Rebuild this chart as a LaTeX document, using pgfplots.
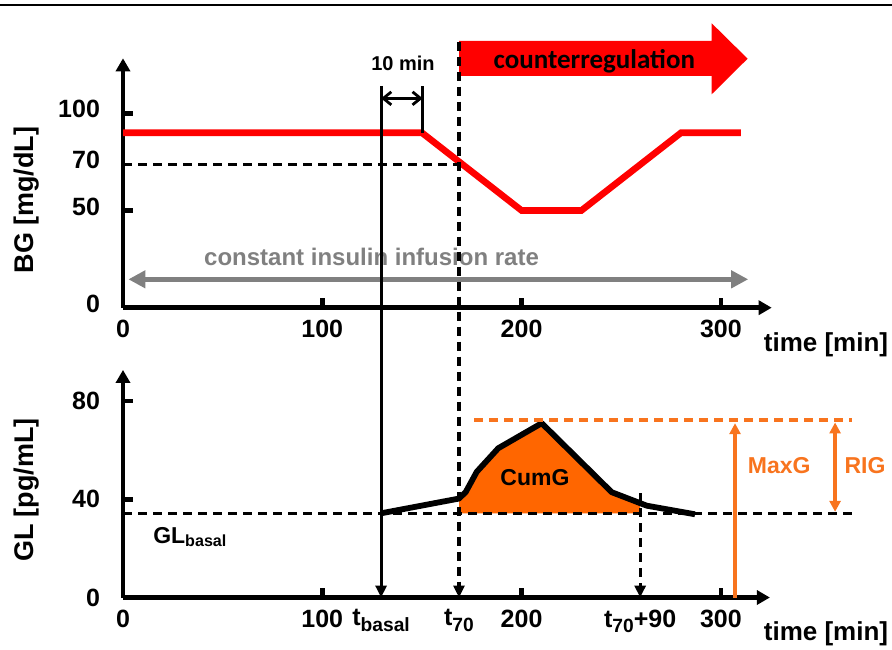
\documentclass[border=0pt]{standalone}
\usepackage{fontspec}
\setmainfont{Liberation Sans}
\newfontfamily\carlito{Carlito}
\usepackage{pgfplots}
\pgfplotsset{compat=1.18}
\usetikzlibrary{arrows.meta}
\definecolor{myred}{RGB}{255,0,0}
\definecolor{myorange}{RGB}{255,102,0}
\definecolor{lorange}{RGB}{248,116,30}
\definecolor{mygray}{RGB}{128,128,128}
\newcommand{\sub}[1]{\raisebox{-2.6pt}{\fontsize{9.6}{11}\selectfont #1}}
\tikzset{dsh/.style={dash pattern=on 4.5pt off 3pt, line width=1.65pt}}
\pgfplotsset{
  myaxis/.style={
    scale only axis, enlargelimits=false, clip=false,
    axis lines=left,
    axis line style={line width=2.3pt, -{Triangle[length=6.5pt,width=7pt]}},
    tick align=inside, major tick length=4.8pt,
    tick style={line width=2.3pt, black},
    tick label style={font=\bfseries\fontsize{12.5}{15}\selectfont},
    /pgf/number format/assume math mode=true,
    xticklabel style={yshift=-2.5pt},
    yticklabel style={xshift=-8pt},
  },
}
\begin{document}
\begin{tikzpicture}
\useasboundingbox (0,0) rectangle (446pt,324.5pt);
\draw[line width=0.75pt] (0,322pt) -- (446pt,322pt);

% ---------------- top panel: BG ----------------
\begin{axis}[myaxis, at={(61.5pt,170.65pt)}, anchor=south west,
  width=324.35pt, height=124.7pt,
  xmin=0, xmax=325.5, ymin=0, ymax=128.3,
  xtick={0,100,200,300}, ytick={0,50,100},
  extra y ticks={73.8}, extra y tick labels={70},
  extra y tick style={major tick length=0pt},
  yticklabel style={yshift=2pt}]
\addplot[myred, line width=3.3pt] coordinates {(0,90)(150,90)(200,50)(230,50)(280,90)(310,90)};
\draw[dsh] (0,73.8) -- (168.6,73.8);
\draw[line width=1.5pt] (150.4,90) -- (150.4,114);
\draw[line width=1.4pt, {Straight Barb[length=4pt,width=6.5pt]}-{Straight Barb[length=4pt,width=6.5pt]}] (129.5,107.7) -- (150.4,107.7);
\node[font=\bfseries\fontsize{10}{12}\selectfont] at (140.5,125.7) {10 min};
\fill[myred] (168.6,119.2) -- (295.4,119.2) -- (295.4,109.8) -- (313.4,128.1) -- (295.4,146.3) -- (295.4,137.2) -- (168.6,137.2) -- cycle;
\node[font=\carlito\bfseries\fontsize{13.5}{16}\selectfont] at (236.5,126.9) {counterregulation};
\draw[mygray, line width=2.2pt, {Triangle[length=8.5pt,width=8.5pt]}-{Triangle[length=8.5pt,width=8.5pt]}] (2.7,14.6) -- (313.7,14.6);
\node[mygray, font=\bfseries\fontsize{12}{14}\selectfont] at (124.7,26.2) {constant insulin infusion rate};
\end{axis}

% ---------------- bottom panel: GL ----------------
\begin{axis}[myaxis, at={(61.5pt,25.75pt)}, anchor=south west,
  width=323.45pt, height=113.8pt,
  xmin=0, xmax=324.6, ymin=0, ymax=92.7,
  xtick={0,100,200,300}, ytick={0,40,80},
  extra x ticks={129.5,168.6,259.5},
  extra x tick labels={{t\sub{basal}},{t\sub{70}},{t\sub{70}+90}},
  extra x tick style={major tick length=0pt}]
\addplot[fill=myorange, draw=none] coordinates {(168.6,34.3)(168.6,40.3)(172,43)(177.5,51.2)(188.3,60.8)(210.1,71.0)(245.2,42.9)(259.5,38.4)(259.5,34.3)(168.6,34.3)};
\draw[dsh] (0,34.3) -- (367.3,34.3);
\addplot[black, line width=2.9pt, line join=round] coordinates {(129.5,34.3)(168.6,40.3)(172,43)(177.5,51.2)(188.3,60.8)(210.1,71.0)(245.2,42.9)(262.8,37.4)(287,33.9)};
\draw[lorange, dsh] (176.3,72.3) -- (365.6,72.3);
\draw[lorange, line width=1.6pt, -{Triangle[length=5.5pt,width=5.5pt]}] (307.1,0) -- (307.1,71);
\draw[lorange, line width=1.6pt, {Triangle[length=5.5pt,width=5.5pt]}-{Triangle[length=5.5pt,width=5.5pt]}] (357.3,34.9) -- (357.3,71.3);
\node[lorange, font=\bfseries\fontsize{11.5}{14}\selectfont] at (329.3,53.6) {MaxG};
\node[lorange, font=\bfseries\fontsize{11.5}{14}\selectfont] at (372.3,53.6) {RIG};
\node[font=\bfseries\fontsize{11.5}{14}\selectfont] at (206.7,48.8) {CumG};
\node[anchor=base west, inner sep=0pt, font=\bfseries\fontsize{11.5}{14}\selectfont] at (15,22.1) {GL\textsubscript{basal}};
\draw[line width=1.5pt, -{Triangle[length=6pt,width=5.5pt]}] (129.5,208.4) -- (129.5,0);
\draw[dsh, -{Triangle[length=6pt,width=5.5pt]}] (168.6,226.4) -- (168.6,0);
\draw[dsh, -{Triangle[length=6pt,width=5.5pt]}] (259.5,42.4) -- (259.5,0);
\end{axis}

\node[font=\bfseries\fontsize{13}{15}\selectfont] at (413pt,152pt) {time [min]};
\node[font=\bfseries\fontsize{13}{15}\selectfont] at (413pt,7.5pt) {time [min]};
\node[rotate=90, font=\bfseries\fontsize{13.5}{16}\selectfont] at (13.35pt,224.5pt) {BG [mg/dL]};
\node[rotate=90, font=\bfseries\fontsize{13.5}{16}\selectfont] at (13.5pt,79.5pt) {GL [pg/mL]};
\end{tikzpicture}
\end{document}
